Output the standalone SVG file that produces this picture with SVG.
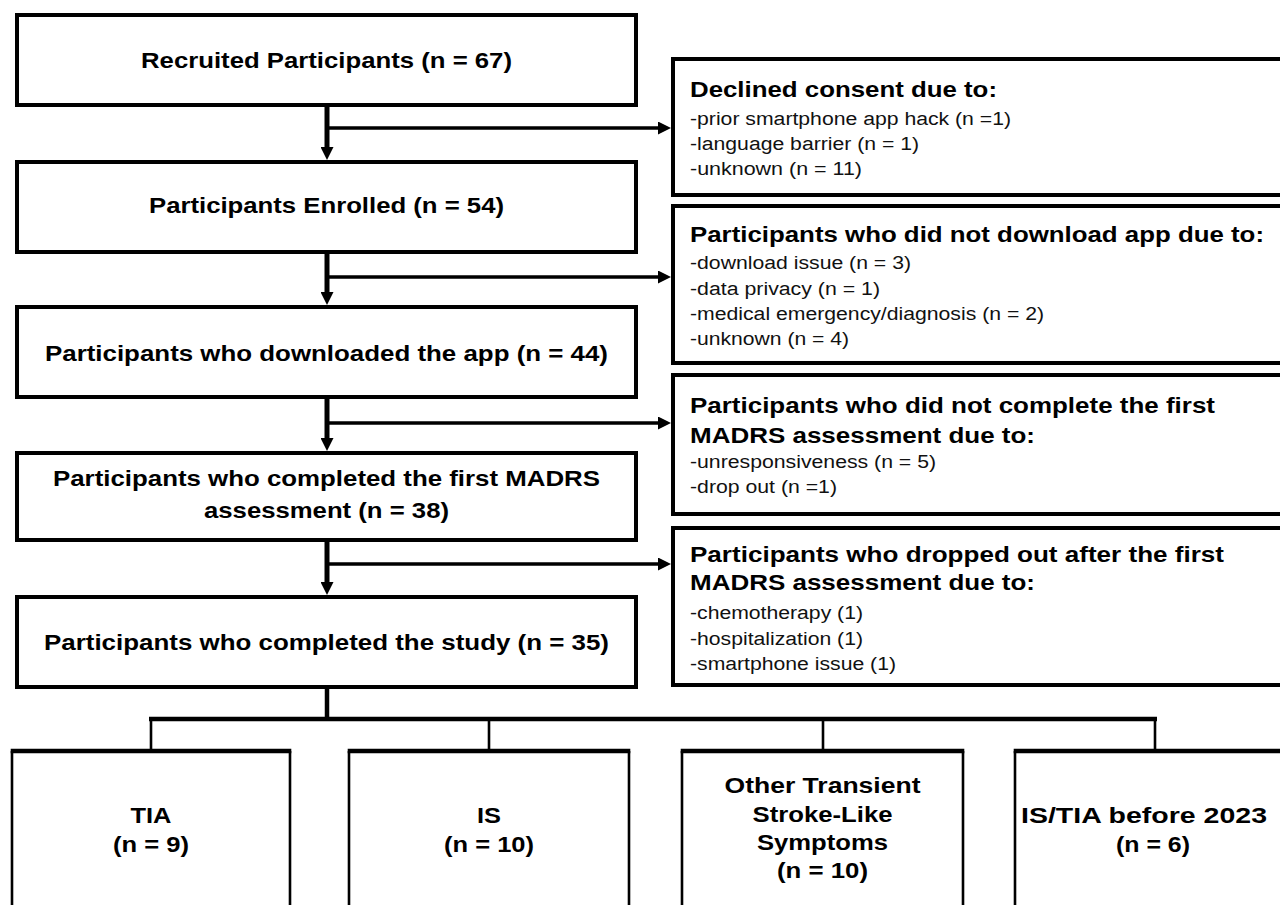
<svg xmlns="http://www.w3.org/2000/svg" width="1280" height="905" viewBox="0 0 1280 905">
<defs>
<style>
.box{fill:#fff;stroke:#000;stroke-width:4}
.bside{fill:none;stroke:#000;stroke-width:2.6}
.btop{fill:none;stroke:#000;stroke-width:4.5}
.t{font-family:"Liberation Sans",Arial,Helvetica,sans-serif;font-weight:bold;font-size:22px;fill:#000}
.s{font-family:"Liberation Sans",Arial,Helvetica,sans-serif;font-size:18px;fill:#111}
.c{text-anchor:middle}
.v{stroke:#000;stroke-width:5;fill:none}
.h{stroke:#000;stroke-width:3.5;fill:none}
.br{stroke:#000;stroke-width:4.5;fill:none}
.dr{stroke:#000;stroke-width:2.6;fill:none}
</style>
<marker id="ah" viewBox="0 0 13 13" refX="1" refY="6.5" markerWidth="13" markerHeight="13" markerUnits="userSpaceOnUse" orient="auto">
<path d="M0,0 L13,6.5 L0,13 z" fill="#000"/>
</marker>
</defs>
<rect width="1280" height="905" fill="#fff"/>

<g id="connectors">
<line class="v" x1="327" y1="105" x2="327" y2="148" marker-end="url(#ah)"/>
<line class="h" x1="327" y1="128" x2="659" y2="128" marker-end="url(#ah)"/>
<line class="v" x1="327" y1="252" x2="327" y2="293" marker-end="url(#ah)"/>
<line class="h" x1="327" y1="277" x2="659" y2="277" marker-end="url(#ah)"/>
<line class="v" x1="327" y1="397" x2="327" y2="439" marker-end="url(#ah)"/>
<line class="h" x1="327" y1="423" x2="659" y2="423" marker-end="url(#ah)"/>
<line class="v" x1="327" y1="540" x2="327" y2="583" marker-end="url(#ah)"/>
<line class="h" x1="327" y1="564" x2="659" y2="564" marker-end="url(#ah)"/>
<line class="br" x1="327" y1="687" x2="327" y2="719"/>
<line class="br" x1="149" y1="719" x2="1157" y2="719"/>
<line class="dr" x1="151" y1="719" x2="151" y2="751"/>
<line class="dr" x1="489" y1="719" x2="489" y2="751"/>
<line class="dr" x1="823" y1="719" x2="823" y2="751"/>
<line class="dr" x1="1155" y1="719" x2="1155" y2="751"/>
</g>

<g id="recruited">
<rect class="box" x="17" y="15" width="619" height="90"/>
<text class="t c" x="326.5" y="68" textLength="371" lengthAdjust="spacingAndGlyphs">Recruited Participants (n = 67)</text>
</g>
<g id="enrolled">
<rect class="box" x="17" y="162" width="619" height="90"/>
<text class="t c" x="326.5" y="213" textLength="355" lengthAdjust="spacingAndGlyphs">Participants Enrolled (n = 54)</text>
</g>
<g id="downloaded">
<rect class="box" x="17" y="307" width="619" height="90"/>
<text class="t c" x="326.5" y="361" textLength="563" lengthAdjust="spacingAndGlyphs">Participants who downloaded the app (n = 44)</text>
</g>
<g id="completed-first">
<rect class="box" x="17" y="453" width="619" height="87"/>
<text class="t c" x="326.5" y="486" textLength="547" lengthAdjust="spacingAndGlyphs">Participants who completed the first MADRS</text>
<text class="t c" x="326.5" y="518" textLength="245" lengthAdjust="spacingAndGlyphs">assessment (n = 38)</text>
</g>
<g id="completed-study">
<rect class="box" x="17" y="597" width="619" height="90"/>
<text class="t c" x="326.5" y="650" textLength="565" lengthAdjust="spacingAndGlyphs">Participants who completed the study (n = 35)</text>
</g>

<g id="declined">
<rect class="box" x="673" y="59" width="630" height="136"/>
<text class="t" x="690" y="97" textLength="307" lengthAdjust="spacingAndGlyphs">Declined consent due to:</text>
<text class="s" x="690" y="125" textLength="321" lengthAdjust="spacingAndGlyphs">-prior smartphone app hack (n =1)</text>
<text class="s" x="690" y="150" textLength="229" lengthAdjust="spacingAndGlyphs">-language barrier (n = 1)</text>
<text class="s" x="690" y="175" textLength="172" lengthAdjust="spacingAndGlyphs">-unknown (n = 11)</text>
</g>
<g id="not-downloaded">
<rect class="box" x="673" y="206" width="630" height="157"/>
<text class="t" x="690" y="242" textLength="574" lengthAdjust="spacingAndGlyphs">Participants who did not download app due to:</text>
<text class="s" x="690" y="269" textLength="221" lengthAdjust="spacingAndGlyphs">-download issue (n = 3)</text>
<text class="s" x="690" y="295" textLength="190" lengthAdjust="spacingAndGlyphs">-data privacy (n = 1)</text>
<text class="s" x="690" y="320" textLength="354" lengthAdjust="spacingAndGlyphs">-medical emergency/diagnosis (n = 2)</text>
<text class="s" x="690" y="345" textLength="159" lengthAdjust="spacingAndGlyphs">-unknown (n = 4)</text>
</g>
<g id="not-completed-first">
<rect class="box" x="673" y="375" width="630" height="139"/>
<text class="t" x="690" y="413" textLength="525" lengthAdjust="spacingAndGlyphs">Participants who did not complete the first</text>
<text class="t" x="690" y="443" textLength="345" lengthAdjust="spacingAndGlyphs">MADRS assessment due to:</text>
<text class="s" x="690" y="468" textLength="246" lengthAdjust="spacingAndGlyphs">-unresponsiveness (n = 5)</text>
<text class="s" x="690" y="493" textLength="147" lengthAdjust="spacingAndGlyphs">-drop out (n =1)</text>
</g>
<g id="dropped-out">
<rect class="box" x="673" y="528" width="630" height="157"/>
<text class="t" x="690" y="562" textLength="534" lengthAdjust="spacingAndGlyphs">Participants who dropped out after the first</text>
<text class="t" x="690" y="590" textLength="345" lengthAdjust="spacingAndGlyphs">MADRS assessment due to:</text>
<text class="s" x="690" y="619" textLength="173" lengthAdjust="spacingAndGlyphs">-chemotherapy (1)</text>
<text class="s" x="690" y="645" textLength="173" lengthAdjust="spacingAndGlyphs">-hospitalization (1)</text>
<text class="s" x="690" y="670" textLength="206" lengthAdjust="spacingAndGlyphs">-smartphone issue (1)</text>
</g>

<g id="tia">
<path class="bside" d="M12,915 V751 M290,751 V915"/>
<line class="btop" x1="10.7" y1="751" x2="291.3" y2="751"/>
<text class="t c" x="151" y="823" textLength="41" lengthAdjust="spacingAndGlyphs">TIA</text>
<text class="t c" x="151" y="852" textLength="76" lengthAdjust="spacingAndGlyphs">(n = 9)</text>
</g>
<g id="is">
<path class="bside" d="M349,915 V751 M629,751 V915"/>
<line class="btop" x1="347.7" y1="751" x2="630.3" y2="751"/>
<text class="t c" x="489" y="823" textLength="24" lengthAdjust="spacingAndGlyphs">IS</text>
<text class="t c" x="489" y="852" textLength="90" lengthAdjust="spacingAndGlyphs">(n = 10)</text>
</g>
<g id="other">
<path class="bside" d="M682,915 V751 M963,751 V915"/>
<line class="btop" x1="680.7" y1="751" x2="964.3" y2="751"/>
<text class="t c" x="822.5" y="793" textLength="196" lengthAdjust="spacingAndGlyphs">Other Transient</text>
<text class="t c" x="822.5" y="822" textLength="140" lengthAdjust="spacingAndGlyphs">Stroke-Like</text>
<text class="t c" x="822.5" y="850" textLength="131" lengthAdjust="spacingAndGlyphs">Symptoms</text>
<text class="t c" x="822.5" y="878" textLength="91" lengthAdjust="spacingAndGlyphs">(n = 10)</text>
</g>
<g id="before-2023">
<path class="bside" d="M1015,915 V751"/>
<line class="btop" x1="1013.7" y1="751" x2="1290" y2="751"/>
<text class="t c" x="1144" y="823" textLength="246" lengthAdjust="spacingAndGlyphs">IS/TIA before 2023</text>
<text class="t c" x="1153" y="852" textLength="74" lengthAdjust="spacingAndGlyphs">(n = 6)</text>
</g>
</svg>
